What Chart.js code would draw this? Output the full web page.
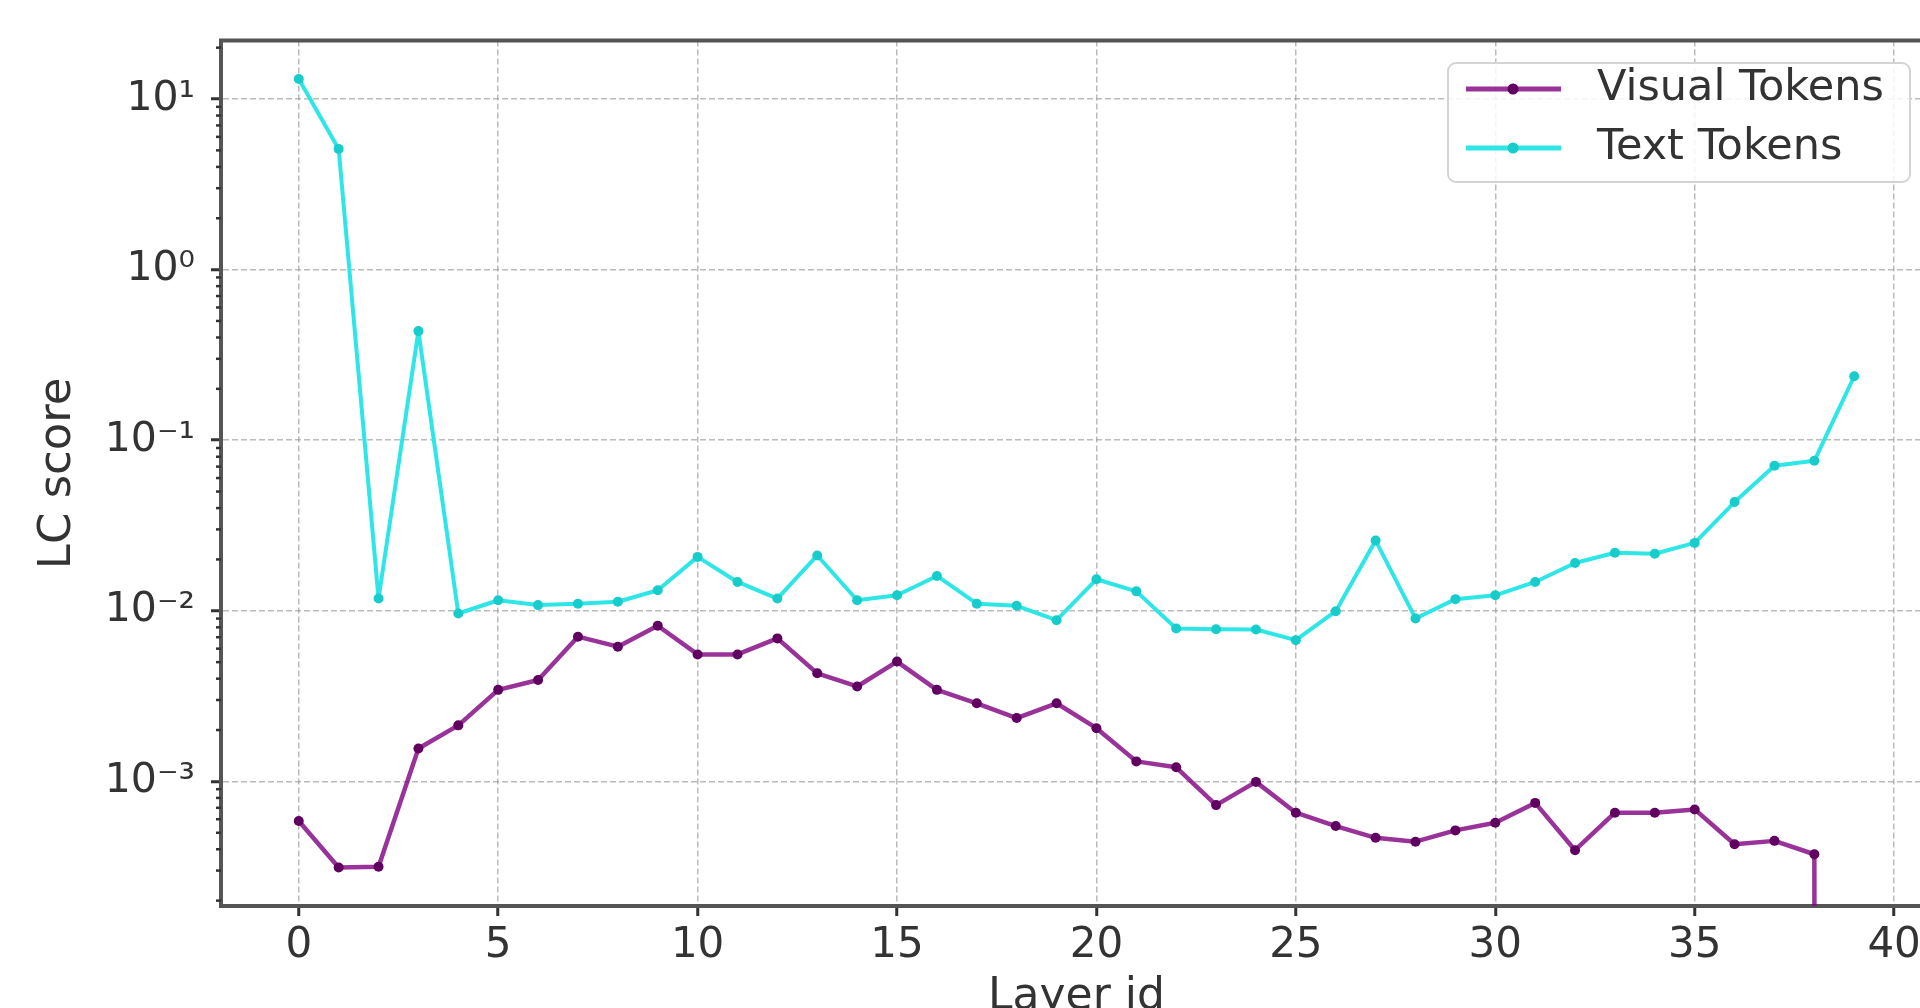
<!DOCTYPE html>
<html>
<head>
<meta charset="utf-8">
<script src="https://cdn.jsdelivr.net/npm/chart.js@4.4.1/dist/chart.umd.min.js"></script>
<style>
  html, body { margin: 0; padding: 0; background: #fff; overflow: hidden; }
  canvas { display: block; }
</style>
</head>
<body>
<canvas id="lcChart" width="1940" height="1040" style="width:1940px;height:1040px"></canvas>
<script>
// Layer ids on the x axis
const layerIds = [0, 1, 2, 3, 4, 5, 6, 7, 8, 9, 10, 11, 12, 13, 14, 15, 16, 17, 18, 19,
                  20, 21, 22, 23, 24, 25, 26, 27, 28, 29, 30, 31, 32, 33, 34, 35, 36, 37, 38, 39];

// LC score per layer
const visualTokens = [5.86e-4, 3.13e-4, 3.16e-4, 1.56e-3, 2.13e-3, 3.44e-3, 3.93e-3, 7.05e-3, 6.16e-3, 8.17e-3,
                      5.55e-3, 5.55e-3, 6.89e-3, 4.30e-3, 3.60e-3, 5.04e-3, 3.44e-3, 2.87e-3, 2.35e-3, 2.87e-3,
                      2.05e-3, 1.31e-3, 1.21e-3, 7.26e-4, 9.93e-4, 6.55e-4, 5.47e-4, 4.67e-4, 4.43e-4, 5.16e-4,
                      5.72e-4, 7.48e-4, 3.95e-4, 6.55e-4, 6.55e-4, 6.85e-4, 4.28e-4, 4.48e-4, 3.74e-4, 0];
const textTokens = [13.1, 5.1, 0.0118, 0.436, 0.00964, 0.01153, 0.0108, 0.0110, 0.0113, 0.0132,
                    0.0207, 0.01476, 0.0118, 0.0211, 0.01153, 0.01233, 0.0160, 0.0110, 0.0107, 0.00881,
                    0.0153, 0.0130, 0.00787, 0.0078, 0.00777, 0.00673, 0.00995, 0.0258, 0.00902, 0.0117,
                    0.01233, 0.01476, 0.01905, 0.0219, 0.0216, 0.0250, 0.0434, 0.0708, 0.0757, 0.237];

const xTicks = [0, 5, 10, 15, 20, 25, 30, 35, 40];
const yTicks = [1e-3, 1e-2, 1e-1, 1, 10];

const axisColor = '#555';
const textColor = '#333';
const font = '"DejaVu Sans", sans-serif';

// log axis can't show 0, clip it to a tiny value like matplotlib does
function toPoints(values) {
    return values.map((v, i) => ({ x: layerIds[i], y: v > 0 ? v : 1e-300 }));
}

const supMap = { '-': '\u207B', '0': '\u2070', '1': '\u00B9', '2': '\u00B2', '3': '\u00B3',
                 '4': '\u2074', '5': '\u2075', '6': '\u2076', '7': '\u2077', '8': '\u2078', '9': '\u2079' };
function powLabel(v) {
    const e = String(Math.round(Math.log10(v)));
    return '10' + e.split('').map(c => supMap[c]).join('');
}

// top spine, minor log ticks and the boxed legend
const extras = {
    id: 'extras',
    afterDraw(chart) {
        const { ctx, chartArea: a } = chart;
        const y = chart.scales.y;
        ctx.save();
        ctx.strokeStyle = axisColor;
        ctx.lineWidth = 4;
        ctx.beginPath();
        ctx.moveTo(a.left - 2, a.top);
        ctx.lineTo(a.right + 2, a.top);
        ctx.stroke();

        ctx.strokeStyle = '#333';
        ctx.lineWidth = 2.5;
        for (let d = 1e-4; d < 100; d *= 10) {
            for (let k = 2; k <= 9; k++) {
                const v = k * d;
                if (v < y.min || v > y.max) continue;
                const py = y.getPixelForValue(v);
                ctx.beginPath();
                ctx.moveTo(a.left - 5, py);
                ctx.lineTo(a.left, py);
                ctx.stroke();
            }
        }

        // legend
        const bx = 1448, by = 63, bw = 462, bh = 119;
        ctx.fillStyle = 'rgba(255,255,255,0.85)';
        ctx.strokeStyle = '#d4d4d4';
        ctx.lineWidth = 2;
        ctx.beginPath();
        ctx.roundRect(bx, by, bw, bh, 8);
        ctx.fill();
        ctx.stroke();
        chart.data.datasets.forEach((ds, i) => {
            const ry = 89 + i * 59;
            ctx.strokeStyle = ds.borderColor;
            ctx.lineWidth = 5;
            ctx.beginPath();
            ctx.moveTo(1466, ry);
            ctx.lineTo(1561, ry);
            ctx.stroke();
            ctx.fillStyle = ds.pointBackgroundColor;
            ctx.beginPath();
            ctx.arc(1513, ry, 5.5, 0, Math.PI * 2);
            ctx.fill();
            ctx.fillStyle = textColor;
            ctx.font = '43px ' + font;
            ctx.textBaseline = 'middle';
            ctx.textAlign = 'left';
            ctx.fillText(ds.label, 1597, ry);
        });
        ctx.restore();
    }
};

new Chart(document.getElementById('lcChart'), {
    type: 'line',
    data: {
        datasets: [{
            label: 'Visual Tokens',
            data: toPoints(visualTokens),
            borderColor: 'rgba(128, 0, 128, 0.8)',
            backgroundColor: 'rgba(128, 0, 128, 0.8)',
            pointBackgroundColor: '#600060',
            pointBorderWidth: 0,
            pointRadius: 5,
            borderWidth: 4.5,
            borderJoinStyle: 'round',
            tension: 0,
        },
        {
            label: 'Text Tokens',
            data: toPoints(textTokens),
            borderColor: '#2ee6e6',
            backgroundColor: '#2ee6e6',
            pointBackgroundColor: '#18cccc',
            pointBorderWidth: 0,
            pointRadius: 5,
            borderWidth: 4,
            borderJoinStyle: 'round',
            tension: 0,
        }]
    },
    options: {
        responsive: false,
        devicePixelRatio: 1,
        animation: false,
        layout: { padding: { left: 0, top: 37, right: 8, bottom: 0 } },
        plugins: {
            legend: { display: false },
            tooltip: { enabled: false }
        },
        scales: {
            x: {
                type: 'linear',
                min: -1.95,
                max: 40.95,
                afterBuildTicks: (axis) => { axis.ticks = xTicks.map(v => ({ value: v })); },
                afterFit: (scale) => { scale.height = 134; },
                ticks: {
                    autoSkip: false,
                    maxRotation: 0,
                    padding: 5,
                    color: textColor,
                    font: { family: font, size: 42 }
                },
                grid: {
                    color: 'rgba(150, 150, 150, 0.65)',
                    lineWidth: 1.5,
                    tickColor: '#333',
                    tickLength: 10,
                    tickWidth: 3
                },
                border: { display: true, color: axisColor, width: 4, dash: [6, 3] },
                title: {
                    display: true,
                    text: 'Layer id',
                    color: textColor,
                    font: { family: font, size: 44 },
                    padding: { top: 0, bottom: 16 }
                }
            },
            y: {
                type: 'logarithmic',
                min: 1.86e-4,
                max: 22,
                afterBuildTicks: (axis) => { axis.ticks = yTicks.map(v => ({ value: v })); },
                afterFit: (scale) => { scale.width = 221; },
                ticks: {
                    autoSkip: false,
                    padding: 16,
                    color: textColor,
                    font: { family: font, size: 41 },
                    callback: (v) => powLabel(v)
                },
                grid: {
                    color: 'rgba(150, 150, 150, 0.65)',
                    lineWidth: 1.5,
                    tickColor: '#333',
                    tickLength: 10,
                    tickWidth: 3
                },
                border: { display: true, color: axisColor, width: 4, dash: [6, 3] },
                title: {
                    display: true,
                    text: 'LC score',
                    color: textColor,
                    font: { family: font, size: 45 },
                    padding: { top: 31, bottom: 0 }
                }
            }
        }
    },
    plugins: [extras]
});
</script>
</body>
</html>
